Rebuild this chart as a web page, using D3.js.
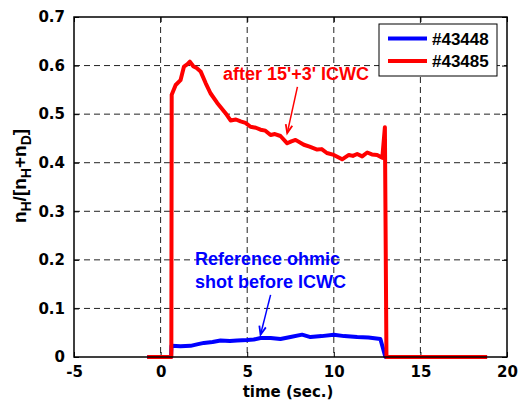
<!DOCTYPE html>
<meta charset="utf-8">
<style>
    body { margin: 0; background: #fff; }
    svg { display: block; }
    .tick text { font: bold 15px "DejaVu Sans", sans-serif; fill: #000; }
</style>
<script src="https://d3js.org/d3.v7.min.js"></script>
<div id="chart"></div>
<script>

    // data
    var redTime = [-0.77, 0.62, 0.64, 0.87, 1.15, 1.35, 1.55, 1.69, 1.9, 2.08, 2.31, 2.6, 2.88, 3.27, 3.75, 4.04, 4.35, 4.62, 4.9, 5.19, 5.5, 5.77, 6.05, 6.35, 6.6, 6.92, 7.31, 7.55, 7.79, 8.27, 8.6, 9.04, 9.3, 9.6, 10.0, 10.48, 10.87, 11.1, 11.35, 11.64, 11.93, 12.2, 12.5, 12.8, 12.95, 13.04, 18.85];
    var redValue = [0, 0, 0.54, 0.56, 0.57, 0.598, 0.603, 0.608, 0.598, 0.595, 0.588, 0.564, 0.543, 0.523, 0.502, 0.487, 0.489, 0.485, 0.482, 0.474, 0.472, 0.468, 0.466, 0.457, 0.459, 0.455, 0.44, 0.444, 0.447, 0.437, 0.433, 0.427, 0.428, 0.42, 0.416, 0.407, 0.416, 0.414, 0.418, 0.413, 0.421, 0.417, 0.416, 0.41, 0.473, 0, 0];

    var blueTime = [-0.77, 0.6, 0.63, 1.15, 1.73, 2.1, 2.5, 3.0, 3.46, 4.0, 4.42, 5.0, 5.38, 5.77, 6.35, 6.92, 7.5, 8.17, 8.65, 9.3, 10.0, 10.6, 11.35, 12.0, 12.69, 12.98, 18.85];
    var blueValue = [0, 0, 0.023, 0.022, 0.023, 0.026, 0.029, 0.031, 0.034, 0.033, 0.034, 0.035, 0.036, 0.039, 0.039, 0.037, 0.041, 0.046, 0.041, 0.043, 0.046, 0.043, 0.041, 0.040, 0.037, 0, 0];

    var xTicks = [-5, 0, 5, 10, 15, 20];
    var yTicks = [0, 0.1, 0.2, 0.3, 0.4, 0.5, 0.6, 0.7];
    var seriesNames = ["#43448", "#43485"];
    var seriesColors = ["#0000ff", "#ff0000"];

    var margin = {top: 17, right: 13, bottom: 46, left: 74},
        width = 520 - margin.left - margin.right,
        height = 403 - margin.top - margin.bottom;

    var svg = d3.select("#chart")
        .append("svg")
        .attr("width", 520)
        .attr("height", 403);

    var g = svg.append("g")
        .attr("transform", "translate(" + margin.left + "," + margin.top + ")");

    var x = d3.scaleLinear().domain([-5, 20]).range([0, width]);
    var y = d3.scaleLinear().domain([0, 0.7]).range([height, 0]);

    // grid
    g.selectAll(".vgrid")
        .data(xTicks.slice(1, -1))
        .enter().append("line")
        .attr("x1", function(d) { return x(d); })
        .attr("x2", function(d) { return x(d); })
        .attr("y1", 0).attr("y2", height)
        .attr("stroke", "#222").attr("stroke-width", 1)
        .attr("stroke-dasharray", "6,4");

    g.selectAll(".hgrid")
        .data(yTicks.slice(1, -1))
        .enter().append("line")
        .attr("y1", function(d) { return y(d); })
        .attr("y2", function(d) { return y(d); })
        .attr("x1", 0).attr("x2", width)
        .attr("stroke", "#222").attr("stroke-width", 1)
        .attr("stroke-dasharray", "6,4");

    // axes with inside ticks
    g.append("g")
        .attr("transform", "translate(0," + height + ")")
        .call(d3.axisBottom(x).tickValues(xTicks).tickSizeInner(-5).tickSizeOuter(0).tickPadding(9)
            .tickFormat(function(d) { return String(d); }));
    g.append("g")
        .call(d3.axisTop(x).tickValues(xTicks).tickSizeInner(-5).tickSizeOuter(0).tickFormat(""));
    g.append("g")
        .call(d3.axisLeft(y).tickValues(yTicks).tickSizeInner(-5).tickSizeOuter(0).tickPadding(9)
            .tickFormat(function(d) { return d === 0 ? "0" : d3.format(".1f")(d); }));
    g.append("g")
        .attr("transform", "translate(" + width + ",0)")
        .call(d3.axisRight(y).tickValues(yTicks).tickSizeInner(-5).tickSizeOuter(0).tickFormat(""));
    g.selectAll(".domain").remove();
    g.selectAll(".tick line").attr("stroke", "#000");

    // lines
    var line = d3.line()
        .x(function(d) { return x(d[0]); })
        .y(function(d) { return y(d[1]); });

    g.append("path")
        .datum(d3.zip(blueTime, blueValue))
        .attr("fill", "none")
        .attr("stroke", seriesColors[0])
        .attr("stroke-width", 4)
        .attr("stroke-linejoin", "round")
        .attr("d", line);

    g.append("path")
        .datum(d3.zip(redTime, redValue))
        .attr("fill", "none")
        .attr("stroke", seriesColors[1])
        .attr("stroke-width", 4)
        .attr("stroke-linejoin", "round")
        .attr("d", line);

    // frame
    g.append("rect")
        .attr("width", width).attr("height", height)
        .attr("fill", "none").attr("stroke", "#000").attr("stroke-width", 1.5);

    // annotations
    function arrow(t0, v0, t1, v1, color) {
        var x0 = x(t0), y0 = y(v0), x1 = x(t1), y1 = y(v1);
        var a = Math.atan2(y1 - y0, x1 - x0), len = 9, spread = 0.38;
        g.append("line")
            .attr("x1", x0).attr("y1", y0).attr("x2", x1).attr("y2", y1)
            .attr("stroke", color).attr("stroke-width", 1.5);
        g.append("path")
            .attr("d", "M" + (x1 - len * Math.cos(a - spread)) + "," + (y1 - len * Math.sin(a - spread)) +
                "L" + x1 + "," + y1 +
                "L" + (x1 - len * Math.cos(a + spread)) + "," + (y1 - len * Math.sin(a + spread)))
            .attr("fill", "none").attr("stroke", color).attr("stroke-width", 1.8);
    }
    arrow(7.9, 0.556, 7.31, 0.461, "#ff0000");
    arrow(6.35, 0.128, 5.77, 0.046, "#0000ff");

    svg.append("text")
        .attr("x", 223).attr("y", 80)
        .style("font", "bold 18px 'Liberation Sans', Arial, sans-serif")
        .attr("fill", "#ff0000")
        .text("after 15'+3' ICWC");

    svg.append("text")
        .attr("x", 195).attr("y", 265)
        .style("font", "bold 18px 'Liberation Sans', Arial, sans-serif")
        .attr("fill", "#0000ff")
        .text("Reference ohmic");
    svg.append("text")
        .attr("x", 195).attr("y", 288)
        .style("font", "bold 18px 'Liberation Sans', Arial, sans-serif")
        .attr("fill", "#0000ff")
        .text("shot before ICWC");

    // legend
    var legend = svg.append("g").attr("transform", "translate(379,24)");
    legend.append("rect")
        .attr("width", 118).attr("height", 52)
        .attr("fill", "#fff").attr("stroke", "#000").attr("stroke-width", 1);
    seriesNames.forEach(function(name, i) {
        legend.append("line")
            .attr("x1", 9).attr("x2", 48)
            .attr("y1", 14.5 + i * 22.5).attr("y2", 14.5 + i * 22.5)
            .attr("stroke", seriesColors[i]).attr("stroke-width", 4);
        legend.append("text")
            .attr("x", 53).attr("y", 14.5 + i * 22.5 + 6)
            .style("font", "bold 17px 'Liberation Sans', Arial, sans-serif")
            .text(name);
    });

    // axis labels
    svg.append("text")
        .attr("x", 288).attr("y", 397)
        .attr("text-anchor", "middle")
        .style("font", "bold 15px 'DejaVu Sans', sans-serif")
        .text("time (sec.)");

    var yl = svg.append("text")
        .attr("transform", "translate(26,176) rotate(-90)")
        .attr("text-anchor", "middle")
        .style("font", "bold 19px 'Liberation Sans', Arial, sans-serif");
    yl.append("tspan").text("n");
    yl.append("tspan").attr("dy", 5).style("font-size", "14px").text("H");
    yl.append("tspan").attr("dy", -5).text("/[n");
    yl.append("tspan").attr("dy", 5).style("font-size", "14px").text("H");
    yl.append("tspan").attr("dy", -5).text("+n");
    yl.append("tspan").attr("dy", 5).style("font-size", "14px").text("D");
    yl.append("tspan").attr("dy", -5).text("]");

</script>
